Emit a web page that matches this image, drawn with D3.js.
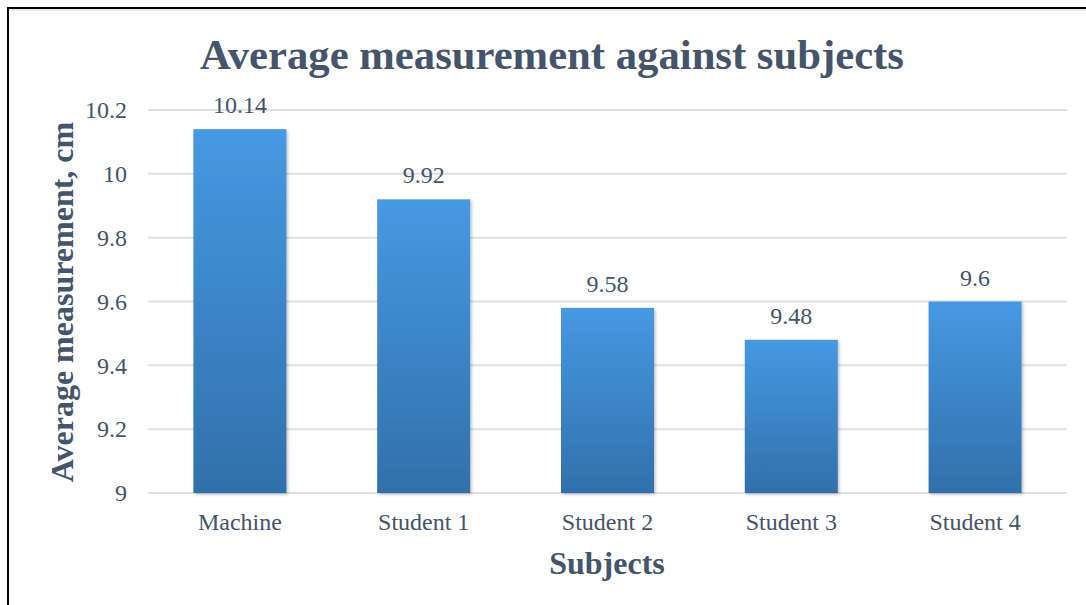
<!DOCTYPE html>
<html>
<head>
<meta charset="utf-8">
<script src="https://cdn.jsdelivr.net/npm/d3@7"></script>
<style>
  body { margin: 0; background: #fff; }
  svg { display: block; }
  text { font-family: "Liberation Serif", "Times New Roman", serif; fill: #44546a; }
</style>
</head>
<body>
<div id="chart"></div>
<script>
// chart data
const subjects = ["Machine", "Student 1", "Student 2", "Student 3", "Student 4"];
const averages = [10.14, 9.92, 9.58, 9.48, 9.6];
const yTicks = [9, 9.2, 9.4, 9.6, 9.8, 10, 10.2];

const width = 1086, height = 605;
const margin = { left: 148, right: 19, top: 110, bottom: 112 };

const svg = d3.select("#chart").append("svg")
    .attr("width", width)
    .attr("height", height);

// outer frame
svg.append("rect")
    .attr("x", 8).attr("y", 8)
    .attr("width", width + 20).attr("height", height + 20)
    .attr("fill", "none")
    .attr("stroke", "#000")
    .attr("stroke-width", 2);
svg.append("line")
    .attr("x1", 9).attr("x2", width).attr("y1", 10).attr("y2", 10)
    .attr("stroke", "#d0d0d0").attr("stroke-width", 1);

const defs = svg.append("defs");
const grad = defs.append("linearGradient")
    .attr("id", "barGrad")
    .attr("x1", "0%").attr("y1", "0%")
    .attr("x2", "0%").attr("y2", "100%");
grad.append("stop").attr("offset", "0%").attr("stop-color", "#4699e3");
grad.append("stop").attr("offset", "100%").attr("stop-color", "#3170ab");

const shadow = defs.append("filter").attr("id", "shadow")
    .attr("x", "-10%").attr("y", "-10%").attr("width", "130%").attr("height", "130%");
shadow.append("feDropShadow")
    .attr("dx", 1.5).attr("dy", 1.5).attr("stdDeviation", 1.5)
    .attr("flood-color", "#000").attr("flood-opacity", 0.25);

const x = d3.scaleBand()
    .domain(subjects)
    .range([margin.left, width - margin.right])
    .paddingInner(0.494)
    .paddingOuter(0.247);

const y = d3.scaleLinear()
    .domain([9, 10.2])
    .range([height - margin.bottom, margin.top]);

// gridlines
svg.append("g")
    .selectAll("line")
    .data(yTicks)
    .join("line")
    .attr("x1", margin.left)
    .attr("x2", width - margin.right)
    .attr("y1", d => y(d))
    .attr("y2", d => y(d))
    .attr("stroke", "#dde1e7")
    .attr("stroke-width", 2);

// y axis labels
const yAxis = d3.axisLeft(y).tickValues(yTicks).tickSize(0).tickPadding(21)
    .tickFormat(d3.format("~g"));
const yg = svg.append("g")
    .attr("transform", `translate(${margin.left},0)`)
    .call(yAxis)
    .attr("font-family", null)
    .attr("font-size", 24);
yg.select(".domain").remove();
yg.selectAll("text").attr("fill", null);

// bars
svg.append("g")
    .selectAll("rect")
    .data(averages)
    .join("rect")
    .attr("x", (d, i) => x(subjects[i]))
    .attr("y", d => y(d))
    .attr("width", x.bandwidth())
    .attr("height", d => y(9) - y(d))
    .attr("fill", "url(#barGrad)")
    .attr("filter", "url(#shadow)");

// data labels
svg.append("g")
    .selectAll("text")
    .data(averages)
    .join("text")
    .attr("x", (d, i) => x(subjects[i]) + x.bandwidth() / 2)
    .attr("y", d => y(d) - 16)
    .attr("text-anchor", "middle")
    .attr("font-size", 24)
    .text(d => d3.format("~g")(d));

// x axis labels
const xAxis = d3.axisBottom(x).tickSize(0).tickPadding(20);
const xg = svg.append("g")
    .attr("transform", `translate(0,${height - margin.bottom})`)
    .call(xAxis)
    .attr("font-family", null)
    .attr("font-size", 24);
xg.select(".domain").remove();
xg.selectAll("text").attr("fill", null);

// titles
svg.append("text")
    .attr("x", 552)
    .attr("y", 69)
    .attr("text-anchor", "middle")
    .attr("font-size", 42.7)
    .attr("font-weight", "bold")
    .text("Average measurement against subjects");

svg.append("text")
    .attr("x", 607)
    .attr("y", 574)
    .attr("text-anchor", "middle")
    .attr("font-size", 32)
    .attr("font-weight", "bold")
    .text("Subjects");

svg.append("text")
    .attr("transform", `translate(73,302) rotate(-90)`)
    .attr("text-anchor", "middle")
    .attr("font-size", 32)
    .attr("font-weight", "bold")
    .text("Average measurement, cm");
</script>
</body>
</html>
